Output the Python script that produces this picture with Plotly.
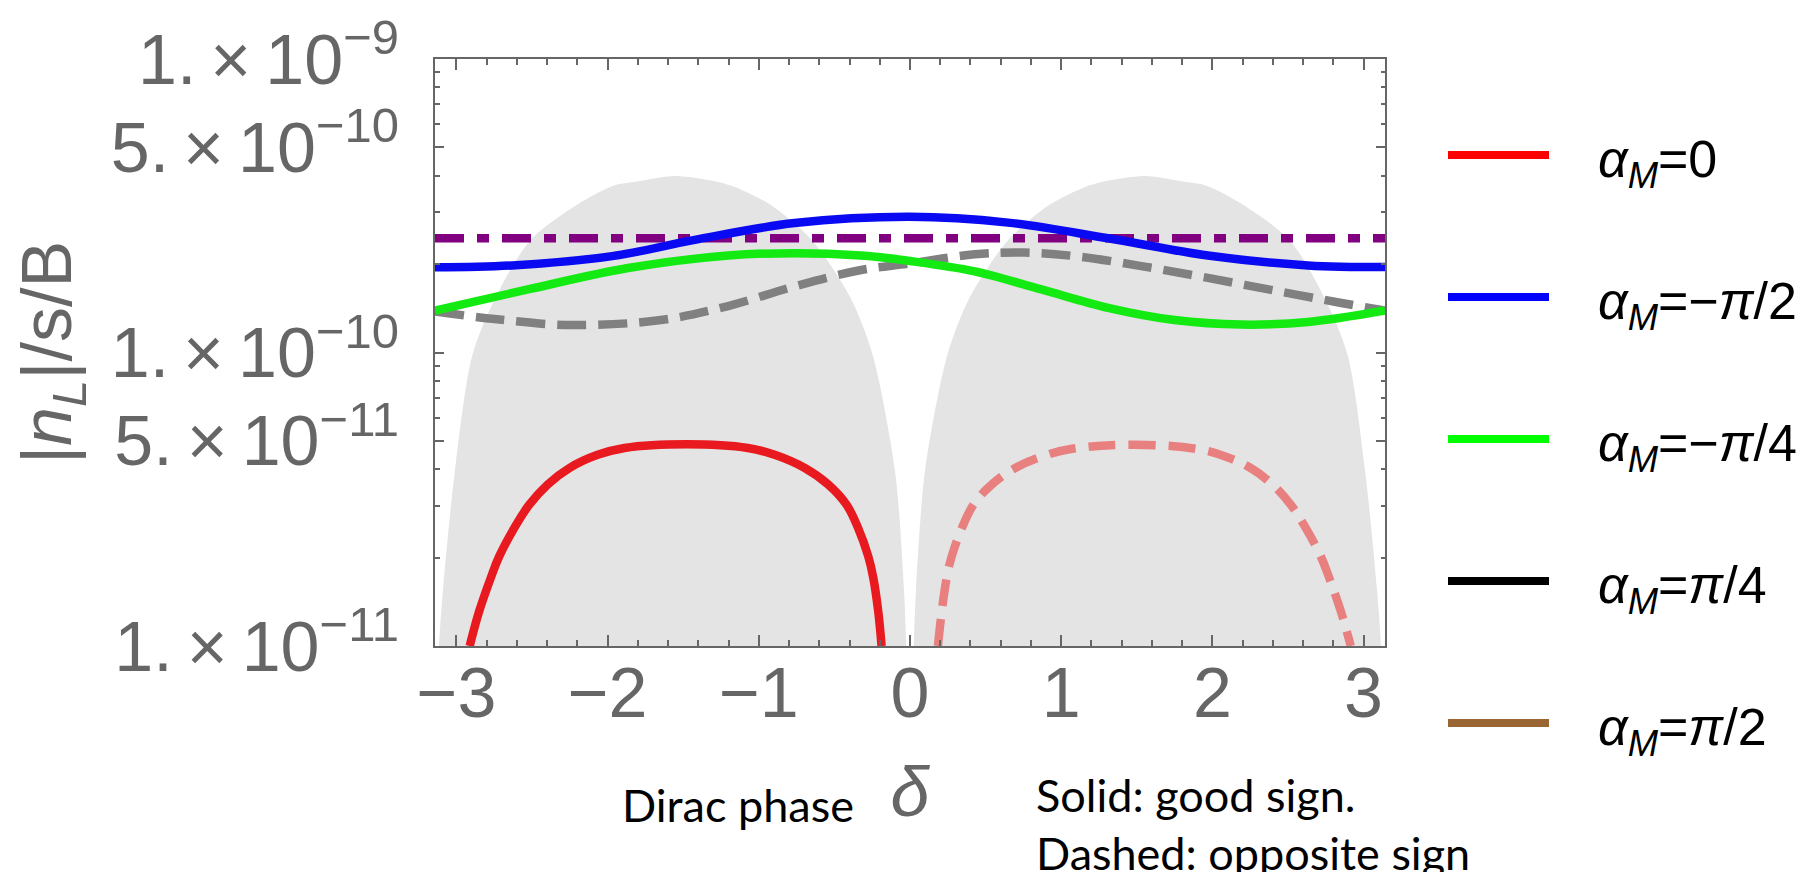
import plotly.graph_objects as go

# ---------------- data ----------------
# grey band (two lobes), boundary of the filled region
band_left_delta = [-3.13, -3.115, -3.088, -3.011, -2.896, -2.743, -2.512, -2.205, -1.95, -1.822, -1.553,
                   -1.269, -1.15, -0.92, -0.647, -0.392, -0.245, -0.098, -0.04, -0.025, -0.012]
band_left_val = [5e-12, 1e-11, 1.57e-11, 3.91e-11, 9.73e-11, 1.53e-10, 2.41e-10, 3.18e-10, 3.72e-10, 3.81e-10,
                 3.99e-10, 3.81e-10, 3.65e-10, 3.18e-10, 2.41e-10, 1.53e-10, 9.73e-11, 3.91e-11, 1.57e-11, 1e-11,
                 5e-12]
band_right_delta = [0.012, 0.025, 0.04, 0.098, 0.245, 0.392, 0.647, 0.92, 1.15, 1.269, 1.553,
                    1.822, 1.95, 2.205, 2.512, 2.743, 2.896, 3.011, 3.088, 3.115, 3.13]
band_right_val = [5e-12, 1e-11, 1.57e-11, 3.91e-11, 9.73e-11, 1.53e-10, 2.41e-10, 3.18e-10, 3.65e-10, 3.81e-10,
                  3.99e-10, 3.81e-10, 3.72e-10, 3.18e-10, 2.41e-10, 1.53e-10, 9.73e-11, 3.91e-11, 1.57e-11, 1e-11,
                  5e-12]

# observed value (purple dash-dot)
obs_delta = [-3.1416, 3.1416]
obs_val = [2.45e-10, 2.45e-10]

# alpha_M = -pi/2 (blue)
blue_delta = [-3.1416, -2.632, -1.97, -1.424, -0.763, 0.0, 0.648, 1.31, 1.97, 2.632, 3.1416]
blue_val = [1.95e-10, 1.98e-10, 2.13e-10, 2.42e-10, 2.76e-10, 2.90e-10, 2.77e-10, 2.45e-10, 2.14e-10, 1.98e-10,
            1.955e-10]

# alpha_M = -pi/4 (green)
green_delta = [-3.1416, -2.527, -1.865, -1.203, -0.763, -0.324, 0.0, 0.428, 0.869, 1.31, 1.75, 2.19, 2.632, 3.1416]
green_val = [1.39e-10, 1.64e-10, 1.94e-10, 2.14e-10, 2.18e-10, 2.14e-10, 2.05e-10, 1.89e-10, 1.64e-10, 1.42e-10,
             1.29e-10, 1.245e-10, 1.27e-10, 1.39e-10]

# grey dashed (opposite sign)
gray_delta = [-3.1416, -2.747, -2.24, -1.647, -1.203, -0.763, -0.324, 0.0, 0.428, 0.759, 1.09, 1.53, 1.97,
              2.412, 2.853, 3.1416]
gray_val = [1.38e-10, 1.30e-10, 1.24e-10, 1.29e-10, 1.44e-10, 1.68e-10, 1.91e-10, 2.01e-10, 2.16e-10, 2.19e-10,
            2.13e-10, 1.97e-10, 1.795e-10, 1.625e-10, 1.475e-10, 1.39e-10]

# alpha_M = 0 (red solid, good sign)
red_delta = [-2.912, -2.850, -2.772, -2.717, -2.618, -2.518, -2.397, -2.253, -2.066, -1.889, -1.480,
             -1.072, -0.895, -0.696, -0.541, -0.420, -0.343, -0.276, -0.243, -0.210, -0.188]
red_val = [1.0e-11, 1.31e-11, 1.71e-11, 2.02e-11, 2.52e-11, 3.03e-11, 3.55e-11, 4.04e-11, 4.48e-11, 4.73e-11,
           4.87e-11, 4.73e-11, 4.48e-11, 4.04e-11, 3.55e-11, 3.03e-11, 2.52e-11, 2.02e-11, 1.71e-11, 1.31e-11,
           1.0e-11]

# alpha_M = 0 (light red dashed, opposite sign)
redop_delta = [0.185, 0.21, 0.243, 0.276, 0.343, 0.42, 0.541, 0.696, 0.895, 1.072, 1.485,
               1.889, 2.066, 2.253, 2.397, 2.518, 2.618, 2.717, 2.772, 2.85, 2.915]
redop_val = [1.0e-11, 1.31e-11, 1.71e-11, 2.02e-11, 2.52e-11, 3.03e-11, 3.55e-11, 4.04e-11, 4.46e-11, 4.70e-11,
             4.85e-11, 4.70e-11, 4.46e-11, 4.04e-11, 3.55e-11, 3.03e-11, 2.52e-11, 2.02e-11, 1.71e-11, 1.31e-11,
             1.0e-11]

# axis ticks
x_ticks = [-3, -2, -1, 0, 1, 2, 3]
x_ticktext = ["−3", "−2", "−1", "0", "1", "2", "3"]
y_ticks = [1e-11, 5e-11, 1e-10, 5e-10, 1e-9]
y_ticktext = ["1.\u2009×\u200910<sup>−11</sup>", "5.\u2009×\u200910<sup>−11</sup>", "1.\u2009×\u200910<sup>−10</sup>",
              "5.\u2009×\u200910<sup>−10</sup>", "1.\u2009×\u200910<sup>−9</sup>"]
y_minor = [2e-11, 3e-11, 4e-11, 6e-11, 7e-11, 8e-11, 9e-11, 2e-10, 3e-10, 4e-10, 6e-10, 7e-10, 8e-10, 9e-10]

# legend
legend_labels = ["<i>α</i><sub><i>M</i></sub>=0",
                 "<i>α</i><sub><i>M</i></sub>=−<i>π</i>/2",
                 "<i>α</i><sub><i>M</i></sub>=−<i>π</i>/4",
                 "<i>α</i><sub><i>M</i></sub>=<i>π</i>/4",
                 "<i>α</i><sub><i>M</i></sub>=<i>π</i>/2"]
legend_colors = ["#FF0000", "#0000FF", "#00FF00", "#000000", "#996633"]

# ---------------- figure ----------------
W, H = 1820, 872
L, R, T, B = 427, 1377, 51, 638
AX = "#666666"
FONT = "Liberation Sans, Arial, sans-serif"
CAP = "Lato, Open Sans, sans-serif"
LW = 8.5

fig = go.Figure()

for dx, dy in [(band_left_delta, band_left_val), (band_right_delta, band_right_val)]:
    fig.add_trace(go.Scatter(x=dx, y=dy, mode="lines", fill="toself", fillcolor="#E4E4E4",
                             line=dict(width=0, shape="spline", smoothing=0.8), hoverinfo="skip",
                             showlegend=False))

fig.add_trace(go.Scatter(x=obs_delta, y=obs_val, mode="lines",
                         line=dict(color="#800080", width=LW, dash="29px,13px,12px,13px"), showlegend=False))
fig.add_trace(go.Scatter(x=gray_delta, y=gray_val, mode="lines",
                         line=dict(color="#808080", width=LW, dash="29px,12px", shape="spline"), showlegend=False))
fig.add_trace(go.Scatter(x=green_delta, y=green_val, mode="lines",
                         line=dict(color="#12EA12", width=LW, shape="spline"), showlegend=False))
fig.add_trace(go.Scatter(x=blue_delta, y=blue_val, mode="lines",
                         line=dict(color="#0A0AF2", width=LW, shape="spline"), showlegend=False))
fig.add_trace(go.Scatter(x=red_delta, y=red_val, mode="lines",
                         line=dict(color="#E8191F", width=LW, shape="spline", smoothing=1.1), showlegend=False))
fig.add_trace(go.Scatter(x=redop_delta, y=redop_val, mode="lines",
                         line=dict(color="#E88080", width=LW, dash="27px,13px", shape="spline", smoothing=1.1),
                         showlegend=False))

pw, ph = R - L, B - T


def px_x(p):
    return (p - L) / pw


def px_y(p):
    return (B - p) / ph


shapes = []
annotations = []
for i, (lab, col) in enumerate(zip(legend_labels, legend_colors)):
    yc = 147 + i * 142
    shapes.append(dict(type="line", xref="paper", yref="paper", x0=px_x(1440), x1=px_x(1541),
                       y0=px_y(yc), y1=px_y(yc), line=dict(color=col, width=8)))
    annotations.append(dict(xref="paper", yref="paper", x=px_x(1588), y=px_y(yc + 8), xanchor="left",
                            yanchor="middle", text=lab, showarrow=False,
                            font=dict(family=FONT, size=52, color="black")))

annotations += [
    dict(xref="paper", yref="paper", x=px_x(612), y=px_y(797), xanchor="left", yanchor="middle",
         text="Dirac phase", showarrow=False, font=dict(family=CAP, size=45, color="black")),
    dict(xref="paper", yref="paper", x=px_x(1026), y=px_y(787), xanchor="left", yanchor="middle",
         text="Solid: good sign.", showarrow=False, font=dict(family=CAP, size=45, color="black")),
    dict(xref="paper", yref="paper", x=px_x(1026), y=px_y(845), xanchor="left", yanchor="middle",
         text="Dashed: opposite sign", showarrow=False, font=dict(family=CAP, size=45, color="black")),
]

fig.update_layout(
    width=W, height=H,
    margin=dict(l=L, r=W - R, t=T, b=H - B, pad=0, autoexpand=False),
    paper_bgcolor="white", plot_bgcolor="white",
    showlegend=False,
    shapes=shapes, annotations=annotations,
    xaxis=dict(range=[-3.14159265, 3.14159265], tickmode="array", tickvals=x_ticks, ticktext=x_ticktext,
               ticks="inside", ticklen=11, tickwidth=2, tickcolor=AX,
               minor=dict(dtick=0.2, tick0=0, ticks="inside", ticklen=6, tickwidth=1.5, tickcolor=AX),
               showline=True, linecolor=AX, linewidth=2, mirror="ticks", showgrid=False, zeroline=False,
               automargin=False,
               tickfont=dict(family=FONT, size=70, color=AX), ticklabelstandoff=-15,
               title=dict(text="<i>δ</i>", font=dict(family=FONT, size=70, color=AX), standoff=36)),
    yaxis=dict(type="log", range=[-11, -9], tickmode="array", tickvals=y_ticks, ticktext=y_ticktext,
               ticks="inside", ticklen=9, tickwidth=2, tickcolor=AX,
               minor=dict(tickmode="array", tickvals=y_minor, ticks="inside", ticklen=4.5, tickwidth=1.5,
                          tickcolor=AX),
               showline=True, linecolor=AX, linewidth=2, mirror="ticks", showgrid=False, zeroline=False,
               automargin=False,
               tickfont=dict(family=FONT, size=70, color=AX), ticklabelstandoff=20,
               title=dict(text="|<i>n</i><sub><i>L</i></sub>|/s/B", font=dict(family=FONT, size=70, color=AX),
                          standoff=25)),
)

fig.write_html("out.html")
